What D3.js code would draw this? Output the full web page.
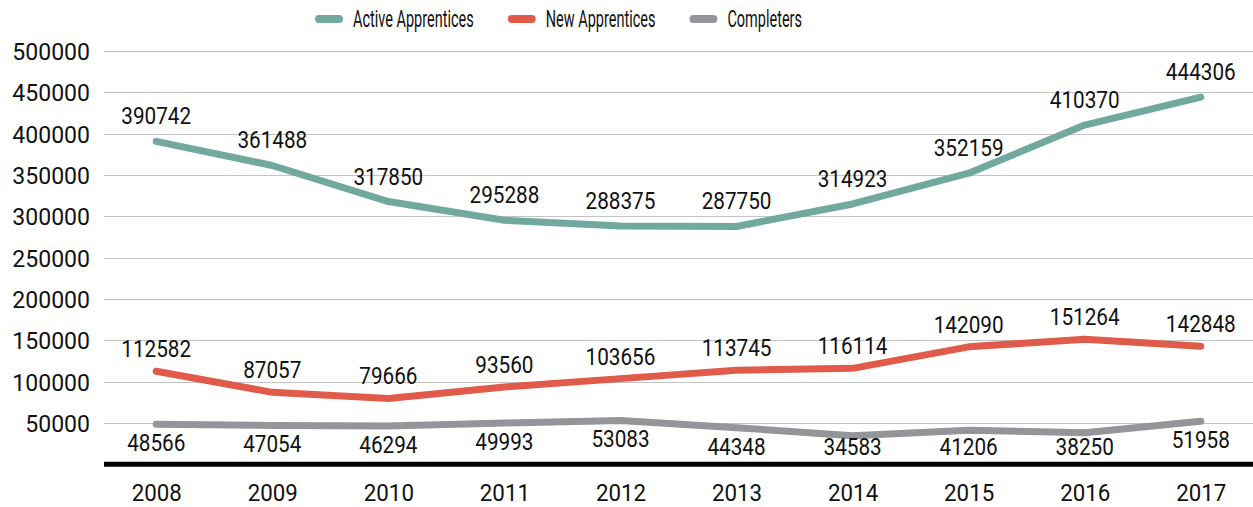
<!DOCTYPE html>
<html>
<head>
<meta charset="utf-8">
<script src="https://cdn.jsdelivr.net/npm/d3@7"></script>
<style>
  body { margin: 0; background: #fff; }
  svg text { font-family: Roboto, "Liberation Sans", sans-serif; fill: #111; }
</style>
</head>
<body>
<svg id="chart" width="1253" height="507"></svg>
<script>
// data
var years = ["2008", "2009", "2010", "2011", "2012", "2013", "2014", "2015", "2016", "2017"];
var active = [390742, 361488, 317850, 295288, 288375, 287750, 314923, 352159, 410370, 444306];
var newApp = [112582, 87057, 79666, 93560, 103656, 113745, 116114, 142090, 151264, 142848];
var completers = [48566, 47054, 46294, 49993, 53083, 44348, 34583, 41206, 38250, 51958];
var yTicks = [50000, 100000, 150000, 200000, 250000, 300000, 350000, 400000, 450000, 500000];
var seriesNames = ["Active Apprentices", "New Apprentices", "Completers"];

var colors = ["#72A99F", "#E05B4A", "#939598"];
// label offsets from the point (above / below)
var labelDy = [-17, -14, 27];

var svg = d3.select("#chart");
var plotL = 104, plotR = 1253, plotT = 51, plotB = 464.3;

// squeeze text horizontally so it looks like the condensed face of the original
function condense(sel, f) {
    sel.each(function() {
        var w = this.getComputedTextLength();
        d3.select(this)
            .attr("textLength", w * f)
            .attr("lengthAdjust", "spacingAndGlyphs");
    });
}

var x = d3.scalePoint()
    .domain(years)
    .range([plotL, plotR])
    .padding(0.45);

var y = d3.scaleLinear()
    .domain([0, 500000])
    .range([plotB, plotT]);

//gridlines
svg.append("g").selectAll("line")
    .data(yTicks)
    .enter()
    .append("line")
    .attr("x1", plotL)
    .attr("x2", plotR)
    .attr("y1", function(d) { return Math.round(y(d)) + 0.5; })
    .attr("y2", function(d) { return Math.round(y(d)) + 0.5; })
    .attr("stroke", "#c4c4c4")
    .attr("stroke-width", 1);

//y axis labels
var yAxis = d3.axisLeft(y)
    .tickValues(yTicks)
    .tickFormat(d3.format("d"))
    .tickSize(0)
    .tickPadding(0);

var yg = svg.append("g")
    .attr("transform", "translate(90,0)")
    .call(yAxis);
yg.select(".domain").remove();
yg.selectAll("text")
    .attr("font-family", null)
    .attr("font-size", null)
    .style("font-size", "24px")
    .attr("dy", "0.36em")
    .call(condense, 0.96);

//x axis
var xAxis = d3.axisBottom(x).tickSize(0).tickPadding(0);
var xg = svg.append("g")
    .attr("transform", "translate(0," + plotB + ")")
    .call(xAxis);
xg.select(".domain").remove();
xg.selectAll("text")
    .attr("font-family", null)
    .attr("font-size", null)
    .style("font-size", "24px")
    .attr("dy", "0")
    .attr("y", 37)
    .call(condense, 0.93);

//zero line
svg.append("line")
    .attr("x1", plotL)
    .attr("x2", plotR)
    .attr("y1", y(0))
    .attr("y2", y(0))
    .attr("stroke", "#000")
    .attr("stroke-width", 5);

var line = d3.line()
    .x(function(d, i) { return x(years[i]); })
    .y(function(d) { return y(d); });

var allSeries = [active, newApp, completers];

allSeries.forEach(function(s, k) {
    svg.append("path")
        .datum(s)
        .attr("d", line)
        .attr("fill", "none")
        .attr("stroke", colors[k])
        .attr("stroke-width", 7)
        .attr("stroke-linecap", "round")
        .attr("stroke-linejoin", "round");
});

allSeries.forEach(function(s, k) {
    svg.append("g").selectAll("text")
        .data(s)
        .enter()
        .append("text")
        .attr("x", function(d, i) { return x(years[i]); })
        //keep labels clear of the zero line
        .attr("y", function(d) { return Math.min(y(d) + labelDy[k], plotB - 9); })
        .attr("text-anchor", "middle")
        .style("font-size", "23px")
        .text(function(d) { return d; })
        .call(condense, 0.9);
});

//legend
var legend = svg.append("g").attr("transform", "translate(315,19)");
var lx = 0;
seriesNames.forEach(function(name, k) {
    legend.append("line")
        .attr("x1", lx + 4)
        .attr("x2", lx + 24)
        .attr("y1", 0)
        .attr("y2", 0)
        .attr("stroke", colors[k])
        .attr("stroke-width", 8)
        .attr("stroke-linecap", "round");
    var t = legend.append("text")
        .attr("x", lx + 38)
        .attr("y", 8)
        .style("font-size", "23px")
        .text(name);
    var w = t.node().getComputedTextLength() * 0.63;
    t.attr("textLength", w).attr("lengthAdjust", "spacingAndGlyphs");
    lx += 38 + w + 34;
});
</script>
</body>
</html>
